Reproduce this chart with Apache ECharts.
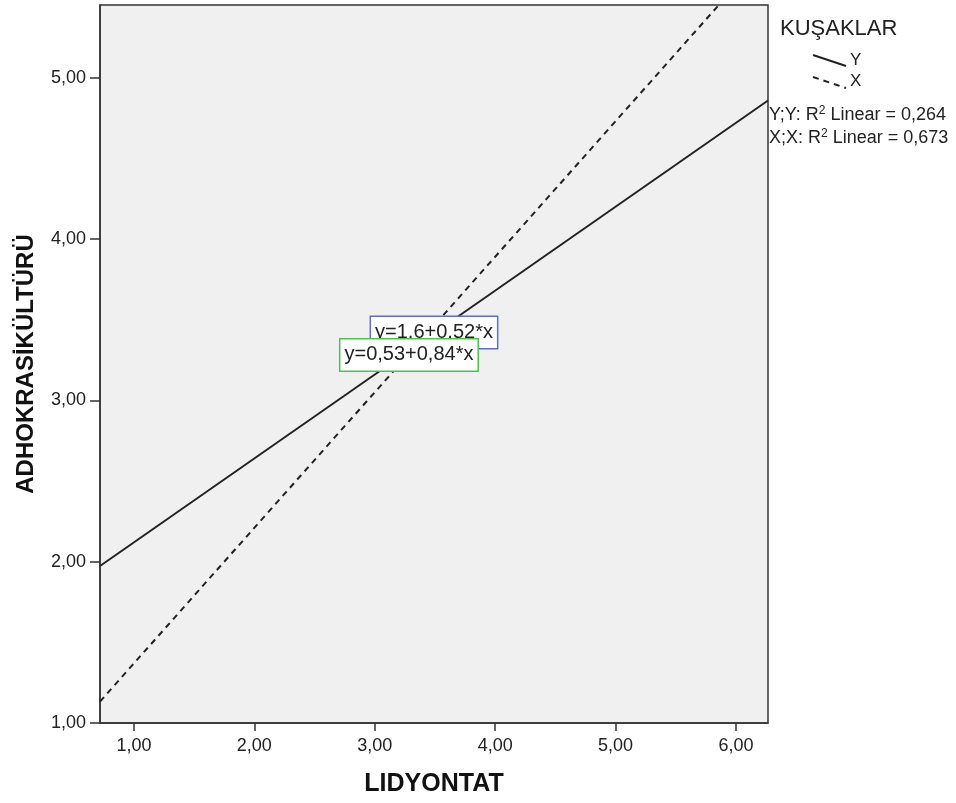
<!DOCTYPE html>
<html>
<head>
<meta charset="utf-8">
<script src="https://cdn.jsdelivr.net/npm/echarts@6/dist/echarts.min.js"></script>
<style>
    html, body { margin: 0; padding: 0; background: #fff; }
    #chart { width: 956px; height: 803px; }
</style>
</head>
<body>
<div id="chart"></div>
<script>
// fit line end points (x at the left and right plot edges)
const lineX = [0.718, 6.266]
const lineY_Y = [1.973, 4.858]
const lineY_X = [1.133, 5.793]
const xTicks = [1, 2, 3, 4, 5, 6]
const yTicks = [1, 2, 3, 4, 5]
const xTickLabels = ['1,00', '2,00', '3,00', '4,00', '5,00', '6,00']
const yTickLabels = ['1,00', '2,00', '3,00', '4,00', '5,00']
const groups = ['Y', 'X']
const r2Values = ['0,264', '0,673']
const equations = ['y=1,6+0,52*x', 'y=0,53+0,84*x']
const eqPos = [[3.492, 3.421], [3.284, 3.281]]

const font = 'Liberation Sans, Arial, sans-serif'

let myChart = echarts.init(document.getElementById('chart'))

function tickText(list, labels) {
    return val => {
        let i = list.indexOf(Math.round(val * 100) / 100)
        return i >= 0 ? labels[i] : ''
    }
}

function eqLabel(text, border) {
    return {
        show: true,
        position: 'inside',
        formatter: text,
        fontFamily: font,
        fontSize: 20,
        color: '#222',
        backgroundColor: '#fff',
        borderColor: border,
        borderWidth: 1.5,
        padding: [6, 4, 5, 4],
    }
}

let option = {
    animation: false,
    grid: {
        left: 100,
        top: 5,
        right: 188,
        bottom: 80,
        show: true,
        backgroundColor: '#f0f0f0',
        borderColor: '#333',
        borderWidth: 1.5,
    },
    xAxis: {
        type: 'value',
        min: lineX[0],
        max: lineX[1],
        name: 'LIDYONTAT',
        nameLocation: 'middle',
        nameGap: 49,
        nameTextStyle: { fontFamily: font, fontSize: 25, fontWeight: 'bold', color: '#111' },
        axisLine: { show: true, lineStyle: { color: '#333', width: 1.5 } },
        axisTick: { show: true, length: 8, lineStyle: { color: '#333', width: 1.5 }, customValues: xTicks },
        axisLabel: {
            fontFamily: font, fontSize: 18, color: '#222', margin: 14,
            customValues: xTicks,
            formatter: tickText(xTicks, xTickLabels),
        },
        splitLine: { show: false },
    },
    yAxis: {
        type: 'value',
        min: 1,
        max: 5.45,
        name: 'ADHOKRASİKÜLTÜRÜ',
        nameLocation: 'middle',
        nameGap: 62,
        nameTextStyle: { fontFamily: font, fontSize: 24, fontWeight: 'bold', color: '#111' },
        axisLine: { show: true, lineStyle: { color: '#333', width: 1.5 } },
        axisTick: { show: true, length: 10, lineStyle: { color: '#333', width: 1.5 }, customValues: yTicks },
        axisLabel: {
            fontFamily: font, fontSize: 18, color: '#222', margin: 14,
            customValues: yTicks,
            formatter: tickText(yTicks, yTickLabels),
        },
        splitLine: { show: false },
    },
    series: [
        {
            name: groups[0],
            type: 'line',
            data: lineX.map((x, i) => [x, lineY_Y[i]]),
            showSymbol: false,
            lineStyle: { color: '#222', width: 2 },
            markPoint: {
                symbol: 'rect',
                symbolSize: 1,
                itemStyle: { color: 'transparent' },
                data: [{ coord: eqPos[0], label: eqLabel(equations[0], '#5d6fc6') }],
            },
        },
        {
            name: groups[1],
            type: 'line',
            data: lineX.map((x, i) => [x, lineY_X[i]]),
            showSymbol: false,
            clip: true,
            lineStyle: { color: '#222', width: 2, type: [6, 5] },
            markPoint: {
                symbol: 'rect',
                symbolSize: 1,
                itemStyle: { color: 'transparent' },
                data: [{ coord: eqPos[1], label: eqLabel(equations[1], '#4cc24c') }],
            },
        },
    ],
    graphic: [
        {
            type: 'text', left: 780, top: 18,
            style: { text: 'KUŞAKLAR', fontFamily: font, fontSize: 22, fill: '#222' },
        },
        {
            type: 'line',
            shape: { x1: 813, y1: 55, x2: 846, y2: 66 },
            style: { stroke: '#222', lineWidth: 2 },
        },
        {
            type: 'text', left: 850, top: 52,
            style: { text: groups[0], fontFamily: font, fontSize: 17, fill: '#222' },
        },
        {
            type: 'line',
            shape: { x1: 813, y1: 77, x2: 846, y2: 88 },
            style: { stroke: '#222', lineWidth: 2, lineDash: [6, 5] },
        },
        {
            type: 'text', left: 850, top: 73,
            style: { text: groups[1], fontFamily: font, fontSize: 17, fill: '#222' },
        },
        ...groups.map((g, i) => ({
            type: 'text', left: 769, top: 105 + i * 23,
            style: {
                text: g + ';' + g + ': R{sup|2} Linear = ' + r2Values[i],
                fontFamily: font, fontSize: 18, fill: '#222',
                rich: { sup: { fontFamily: font, fontSize: 12, verticalAlign: 'top', padding: [0, 0, 8, 0], fill: '#222' } },
            },
        })),
    ],
}

myChart.setOption(option, true)
</script>
</body>
</html>
